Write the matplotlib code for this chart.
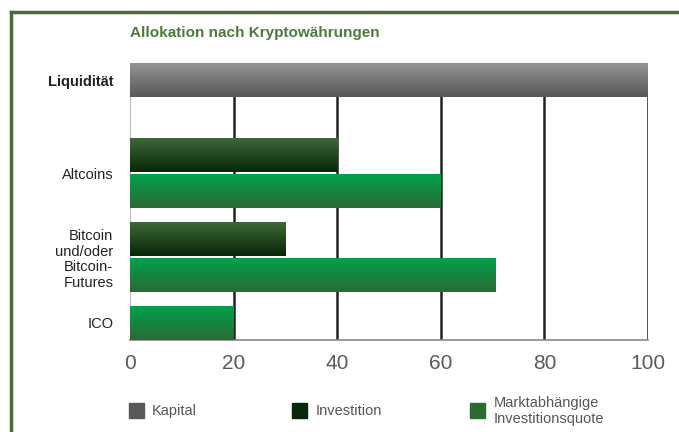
import matplotlib.pyplot as plt
import matplotlib.colors as mcolors
import numpy as np
from matplotlib.patches import Rectangle
from matplotlib.lines import Line2D

plt.rcParams["font.family"] = ["Liberation Sans", "DejaVu Sans"]

# data
categories = ["Liquidität", "Altcoins", "Bitcoin\nund/oder\nBitcoin-\nFutures", "ICO"]
kapital = [100, None, None, None]
investition = [None, 40, 30, None]
marktquote = [None, 60, 70.5, 20]
xticks = [0, 20, 40, 60, 80, 100]
title = "Allokation nach Kryptowährungen"
legend_labels = ["Kapital", "Investition", "Marktabhängige\nInvestitionsquote"]

# gradient colours (top, bottom)
grad = {
    "kap": ("#959595", "#585858"),
    "inv": ("#3d6b37", "#082608"),
    "mkt": ("#00a24e", "#2b6b33"),
}

fig = plt.figure(figsize=(6.79, 4.32), dpi=100)
ax = fig.add_axes([130 / 679, 1 - 340 / 432, 518 / 679, 277 / 432])

h = 1.0
pair_gap = 0.07
group_gap = 0.4
first_gap = 1.2

# compute slot positions (top of each bar)
slots = []
label_y = []
y = 0.0
for i in range(len(categories)):
    series = [("kap", kapital[i]), ("inv", investition[i]), ("mkt", marktquote[i])]
    series = [s for s in series if s[1] is not None]
    top = y
    for key, val in series:
        slots.append((key, val, y))
        y += h + pair_gap
    y -= pair_gap
    label_y.append((top + y) / 2)
    y += first_gap if i == 0 else group_gap
ybottom = y - group_gap


def grad_img(c1, c2):
    a = np.array(mcolors.to_rgb(c1))
    b = np.array(mcolors.to_rgb(c2))
    t = np.linspace(0, 1, 64)[:, None]
    return (a * (1 - t) + b * t)[:, None, :]


for key, val, top in slots:
    bars = ax.barh(top + h / 2, val, height=h, color=grad[key][1], zorder=3)
    patch = bars[0]
    im = ax.imshow(grad_img(*grad[key]), extent=[0, val, top + h, top],
                   aspect="auto", zorder=3.5, interpolation="bilinear")
    im.set_clip_path(patch)

ax.set_xlim(0, 100)
ax.set_ylim(ybottom, 0)

for xv in xticks[1:]:
    ax.axvline(xv, color="#222222", lw=1.8, zorder=1)

for s in ["top", "right"]:
    ax.spines[s].set_visible(False)
ax.spines["left"].set_color("#bbbbbb")
ax.spines["bottom"].set_color("#888888")
ax.spines["bottom"].set_linewidth(1.2)

ax.set_xticks(xticks)
ax.set_xticklabels([str(v) for v in xticks], fontsize=15, color="#5a5a5a")
ax.tick_params(axis="x", length=0, pad=10)
ax.set_yticks(label_y)
ax.set_yticklabels(categories, fontsize=10.5, color="#222222", linespacing=1.15)
ax.get_yticklabels()[0].set_fontweight("bold")
ax.tick_params(axis="y", length=0, pad=12)

fig.text(130 / 679, 1 - 33 / 432, title, color="#4d7a3c", fontsize=11,
         fontweight="bold", va="center", ha="left")

# legend
leg_items = [("kap", 129, 152), ("inv", 292, 316), ("mkt", 470, 494)]
for (key, sx, tx), lab in zip(leg_items, legend_labels):
    fig.patches.append(Rectangle((sx / 679, 1 - 418 / 432), 15 / 679, 15 / 432,
                                 transform=fig.transFigure, color=grad[key][1]))
    fig.text(tx / 679, 1 - 411 / 432, lab, fontsize=10.5, color="#555555",
             va="center", ha="left", linespacing=1.1)

# green frame
fig.add_artist(Line2D([11 / 679, 1], [1 - 12 / 432, 1 - 12 / 432],
                      transform=fig.transFigure, color="#4a6b35", lw=2.5))
fig.add_artist(Line2D([11 / 679, 11 / 679], [0, 1 - 12 / 432],
                      transform=fig.transFigure, color="#4a6b35", lw=2.5))

fig.savefig("out.png", dpi=100)
